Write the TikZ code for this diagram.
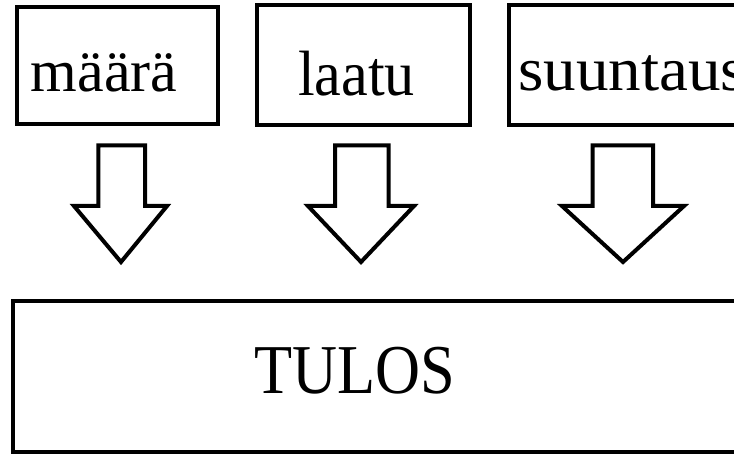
\documentclass[tikz,border=0pt]{standalone}
\usepackage{fontspec}
\setmainfont{Liberation Serif}
\begin{document}
\begin{tikzpicture}[x=1pt,y=-1pt,
  box/.style={draw=black,line width=4pt,fill=white,inner sep=0pt},
  lbl/.style={anchor=base,inner sep=0pt},
  bigarrow/.style={draw=black,line width=4pt,line join=miter,fill=white}]
\useasboundingbox (0,0) rectangle (734,454);
\clip (0,0) rectangle (734,454);
% boxes
\node[box,minimum width=201pt,minimum height=117pt] (maara) at (117.5,66) {};
\node[box,minimum width=213pt,minimum height=120pt] (laatu) at (363.5,65.5) {};
\node[box,minimum width=251pt,minimum height=120pt] (suunt) at (634.4,65.5) {};
\node[box,minimum width=747.5pt,minimum height=151.2pt] (tulos) at (386.25,376.4) {};
% labels
\node[lbl,font=\fontsize{60}{64}\selectfont] (tm) at (104.2,91.7) {määrä};
\node[lbl,font=\fontsize{64}{68}\selectfont] (tl) at (356.5,96) {\scalebox{0.94}[1]{laatu}};
\node[lbl,anchor=base west,font=\fontsize{62}{66}\selectfont] (ts) at (518,90.5) {\scalebox{1.05}[1]{suuntaus}};
\node[lbl,font=\fontsize{70}{74}\selectfont] (tt) at (355,393.3) {\scalebox{0.89}[1]{TULOS}};
% arrows
\draw[bigarrow] (98.3,145.3) -- (145,145.3) -- (145,206) -- (167,206) -- (121,262) -- (74,206) -- (98.3,206) -- cycle;
\draw[bigarrow] (335,145.3) -- (388.5,145.3) -- (388.5,206) -- (414,206) -- (361,262) -- (308,206) -- (335,206) -- cycle;
\draw[bigarrow] (592.5,145.3) -- (653,145.3) -- (653,206) -- (684,206) -- (623,262) -- (562,206) -- (592.5,206) -- cycle;
\end{tikzpicture}
\end{document}
